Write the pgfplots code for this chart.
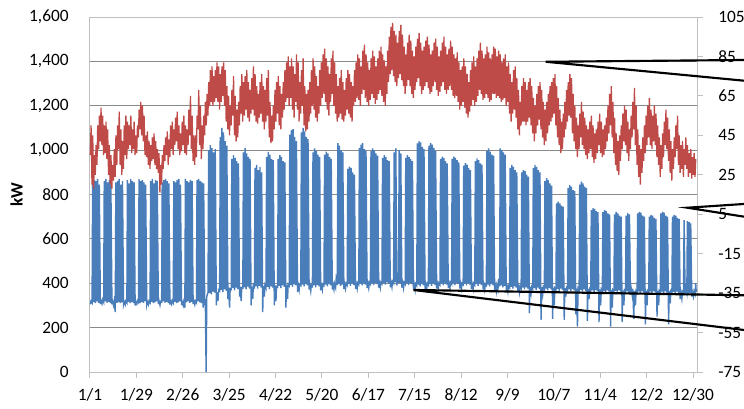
\documentclass[border=0pt]{standalone}
\usepackage{pgfplots}
\pgfplotsset{compat=1.18}
\usepackage{fontspec}
\setmainfont{Carlito}
\definecolor{lblue}{HTML}{4A7EBB}
\definecolor{lred}{HTML}{BE4B48}
\definecolor{gridgray}{HTML}{8A8A8A}
\definecolor{axisgray}{HTML}{BFBFBF}
\pgfplotsset{
  common/.style={
    scale only axis, width=455.25pt, height=266.25pt,
    xmin=0, xmax=366.4,
    tick align=outside, major tick length=4.5pt,
    axis line style={draw=axisgray, line width=0.75pt},
    ticklabel style={font=\fontsize{13}{15}\selectfont, text=black},
    /pgf/number format/assume math mode=true,
    /pgf/number format/1000 sep={,},
    clip=false,
  }
}
\begin{document}
\begin{tikzpicture}
\begin{axis}[common,
  ymin=0, ymax=1600, ytick={0,200,...,1600},
  xtick={0,28,...,364},
  xticklabels={1/1,1/29,2/26,3/25,4/22,5/20,6/17,7/15,8/12,9/9,10/7,11/4,12/2,12/30},
  xtick pos=lower,
  ymajorgrids, grid style={draw=gridgray, line width=0.75pt},
  xtick style={draw=axisgray, line width=0.75pt},
  ytick style={draw=none},
  yticklabel style={xshift=-8pt},
  xticklabel style={yshift=-4pt},
]
\coordinate (ll) at (rel axis cs:0,0);
\coordinate (ur) at (rel axis cs:1,1);
\node[rotate=90, font=\fontsize{13}{15}\selectfont\bfseries, xshift=0pt] at ([xshift=-55pt]rel axis cs:0,0.5) {kW};
\addplot[lblue, line width=1.05pt] coordinates {
(0.25,305)(0.6,320)(1.25,312)(1.6,850)(2.25,315)(2.6,865)(3.25,310)(3.6,860)(4.25,318)(4.6,870)(5.25,312)(5.6,845)(6.25,306)(6.6,322)
(7.25,308)(7.6,325)(8.25,314)(8.6,860)(9.25,318)(9.6,870)(10.25,312)(10.6,855)(11.25,316)(11.6,865)(12.25,310)(12.6,850)(13.25,305)(13.6,320)
(14.25,300)(14.6,318)(15.25,270)(15.6,855)(16.25,312)(16.6,860)(17.25,315)(17.6,870)(18.25,310)(18.6,845)(19.25,314)(19.6,860)(20.25,306)(20.6,318)
(21.25,304)(21.6,320)(22.25,312)(22.6,865)(23.25,316)(23.6,850)(24.25,310)(24.6,870)(25.25,315)(25.6,860)(26.25,311)(26.6,855)(27.25,300)(27.6,316)
(28.25,306)(28.6,322)(29.25,314)(29.6,870)(30.25,310)(30.6,860)(31.25,316)(31.6,865)(32.25,312)(32.6,855)(33.25,318)(33.6,845)(34.25,305)(34.6,318)
(35.25,304)(35.6,320)(36.25,312)(36.6,860)(37.25,316)(37.6,870)(38.25,310)(38.6,850)(39.25,314)(39.6,865)(40.25,318)(40.6,860)(41.25,306)(41.6,324)
(42.25,302)(42.6,318)(43.25,315)(43.6,855)(44.25,318)(44.6,865)(45.25,312)(45.6,870)(46.25,316)(46.6,860)(47.25,310)(47.6,850)(48.25,304)(48.6,320)
(49.25,306)(49.6,322)(50.25,312)(50.6,860)(51.25,316)(51.6,855)(52.25,310)(52.6,865)(53.25,314)(53.6,870)(54.25,318)(54.6,845)(55.25,302)(55.6,318)
(56.25,300)(56.6,316)(57.25,290)(57.6,870)(58.25,314)(58.6,860)(59.25,318)(59.6,855)(60.25,312)(60.6,865)(61.25,316)(61.6,860)(62.25,306)(62.6,322)
(63.25,304)(63.6,320)(64.25,312)(64.6,865)(65.25,318)(65.6,870)(66.25,314)(66.6,860)(67.25,310)(67.6,855)(68.25,290)(68.6,850)(69.25,300)(69.6,330)
(70.1,0)(70.5,340)(71.25,360)(71.6,1000)(72.25,355)(72.6,1023)(73.25,350)(73.6,1010)(74.25,362)(74.6,990)(75.25,358)(75.6,1005)(76.25,300)(76.6,360)
(77.25,320)(77.6,370)(78.25,365)(78.6,1060)(79.25,370)(79.6,1100)(80.25,360)(80.6,1080)(81.25,372)(81.6,1040)(82.25,366)(82.6,1020)(83.25,330)(83.6,380)
(84.25,290)(84.6,375)(85.25,372)(85.6,960)(86.25,378)(86.6,978)(87.25,368)(87.6,965)(88.25,380)(88.6,950)(89.25,374)(89.6,940)(90.25,340)(90.6,385)
(91.25,320)(91.6,380)(92.25,378)(92.6,990)(93.25,382)(93.6,1010)(94.25,372)(94.6,985)(95.25,385)(95.6,970)(96.25,376)(96.6,960)(97.25,300)(97.6,385)
(98.25,330)(98.6,390)(99.25,382)(99.6,920)(100.25,386)(100.6,933)(101.25,376)(101.6,910)(102.25,388)(102.6,925)(103.25,380)(103.6,900)(104.25,270)(104.6,388)
(105.25,340)(105.6,392)(106.25,378)(106.6,970)(107.25,384)(107.6,992)(108.25,374)(108.6,980)(109.25,386)(109.6,960)(110.25,380)(110.6,955)(111.25,300)(111.6,390)
(112.25,320)(112.6,385)(113.25,382)(113.6,960)(114.25,388)(114.6,978)(115.25,378)(115.6,970)(116.25,390)(116.6,950)(117.25,384)(117.6,945)(118.25,290)(118.6,392)
(119.25,330)(119.6,395)(120.25,388)(120.6,1070)(121.25,392)(121.6,1090)(122.25,384)(122.6,1095)(123.25,395)(123.6,1060)(124.25,390)(124.6,1040)(125.25,360)(125.6,398)
(126.25,370)(126.6,395)(127.25,390)(127.6,1080)(128.25,394)(128.6,1100)(129.25,386)(129.6,1085)(130.25,396)(130.6,1060)(131.25,390)(131.6,1050)(132.25,372)(132.6,398)
(133.25,365)(133.6,392)(134.25,386)(134.6,990)(135.25,390)(135.6,1008)(136.25,382)(136.6,995)(137.25,392)(137.6,980)(138.25,386)(138.6,970)(139.25,368)(139.6,394)
(140.25,370)(140.6,396)(141.25,390)(141.6,980)(142.25,394)(142.6,993)(143.25,386)(143.6,985)(144.25,396)(144.6,970)(145.25,390)(145.6,960)(146.25,372)(146.6,398)
(147.25,372)(147.6,398)(148.25,380)(148.6,420)(149.25,392)(149.6,1031)(150.25,396)(150.6,1020)(151.25,388)(151.6,1000)(152.25,394)(152.6,990)(153.25,374)(153.6,400)
(154.25,376)(154.6,400)(155.25,392)(155.6,915)(156.25,396)(156.6,926)(157.25,388)(157.6,920)(158.25,398)(158.6,900)(159.25,392)(159.6,890)(160.25,375)(160.6,402)
(161.25,376)(161.6,402)(162.25,394)(162.6,1010)(163.25,398)(163.6,1025)(164.25,390)(164.6,1031)(165.25,400)(165.6,1005)(166.25,394)(166.6,995)(167.25,378)(167.6,404)
(168.25,378)(168.6,404)(169.25,396)(169.6,995)(170.25,400)(170.6,1008)(171.25,392)(171.6,1000)(172.25,402)(172.6,985)(173.25,396)(173.6,975)(174.25,380)(174.6,406)
(175.25,380)(175.6,405)(176.25,398)(176.6,965)(177.25,402)(177.6,978)(178.25,394)(178.6,970)(179.25,404)(179.6,955)(180.25,398)(180.6,950)(181.25,382)(181.6,408)
(182.25,382)(182.6,408)(183.25,400)(183.6,990)(184.25,404)(184.6,1008)(185.25,390)(185.6,430)(186.25,402)(186.6,1000)(187.25,398)(187.6,985)(188.25,380)(188.6,406)
(189.25,378)(189.6,404)(190.25,396)(190.6,965)(191.25,400)(191.6,978)(192.25,392)(192.6,970)(193.25,402)(193.6,960)(194.25,396)(194.6,950)(195.25,372)(195.6,400)
(196.25,370)(196.6,398)(197.25,390)(197.6,1030)(198.25,394)(198.6,1041)(199.25,386)(199.6,1035)(200.25,396)(200.6,1015)(201.25,390)(201.6,1005)(202.25,372)(202.6,398)
(203.25,374)(203.6,400)(204.25,392)(204.6,1020)(205.25,396)(205.6,1031)(206.25,388)(206.6,1025)(207.25,398)(207.6,1010)(208.25,392)(208.6,995)(209.25,376)(209.6,402)
(210.25,376)(210.6,402)(211.25,394)(211.6,960)(212.25,398)(212.6,971)(213.25,390)(213.6,965)(214.25,400)(214.6,950)(215.25,394)(215.6,940)(216.25,378)(216.6,404)
(217.25,378)(217.6,404)(218.25,396)(218.6,960)(219.25,400)(219.6,971)(220.25,392)(220.6,965)(221.25,402)(221.6,955)(222.25,396)(222.6,945)(223.25,376)(223.6,402)
(224.25,376)(224.6,400)(225.25,394)(225.6,930)(226.25,398)(226.6,941)(227.25,390)(227.6,935)(228.25,400)(228.6,920)(229.25,394)(229.6,910)(230.25,374)(230.6,400)
(231.25,374)(231.6,400)(232.25,392)(232.6,950)(233.25,396)(233.6,963)(234.25,388)(234.6,955)(235.25,398)(235.6,940)(236.25,392)(236.6,935)(237.25,372)(237.6,398)
(238.25,370)(238.6,396)(239.25,390)(239.6,995)(240.25,394)(240.6,1008)(241.25,386)(241.6,993)(242.25,396)(242.6,980)(243.25,390)(243.6,975)(244.25,366)(244.6,394)
(245.25,364)(245.6,392)(246.25,372)(246.6,420)(247.25,386)(247.6,1008)(248.25,390)(248.6,1000)(249.25,382)(249.6,990)(250.25,388)(250.6,980)(251.25,362)(251.6,390)
(252.25,362)(252.6,388)(253.25,380)(253.6,920)(254.25,384)(254.6,933)(255.25,376)(255.6,925)(256.25,386)(256.6,910)(257.25,380)(257.6,900)(258.25,360)(258.6,386)
(259.25,358)(259.6,386)(260.25,376)(260.6,900)(261.25,380)(261.6,910)(262.25,372)(262.6,905)(263.25,382)(263.6,890)(264.25,376)(264.6,880)(265.25,265)(265.6,384)
(266.25,356)(266.6,384)(267.25,374)(267.6,920)(268.25,378)(268.6,933)(269.25,370)(269.6,925)(270.25,380)(270.6,910)(271.25,374)(271.6,900)(272.25,235)(272.6,382)
(273.25,350)(273.6,382)(274.25,372)(274.6,860)(275.25,376)(275.6,874)(276.25,368)(276.6,865)(277.25,378)(277.6,850)(278.25,372)(278.6,840)(279.25,240)(279.6,380)
(280.25,300)(280.6,378)(281.25,370)(281.6,760)(282.25,374)(282.6,768)(283.25,366)(283.6,760)(284.25,376)(284.6,750)(285.25,370)(285.6,745)(286.25,235)(286.6,378)
(287.25,340)(287.6,378)(288.25,368)(288.6,830)(289.25,372)(289.6,843)(290.25,364)(290.6,835)(291.25,374)(291.6,820)(292.25,368)(292.6,815)(293.25,260)(293.6,376)
(294.25,205)(294.6,376)(295.25,366)(295.6,845)(296.25,370)(296.6,858)(297.25,362)(297.6,850)(298.25,372)(298.6,835)(299.25,366)(299.6,830)(300.25,230)(300.6,374)
(301.25,330)(301.6,374)(302.25,364)(302.6,730)(303.25,368)(303.6,739)(304.25,360)(304.6,735)(305.25,370)(305.6,725)(306.25,364)(306.6,720)(307.25,225)(307.6,372)
(308.25,300)(308.6,372)(309.25,362)(309.6,720)(310.25,366)(310.6,730)(311.25,358)(311.6,725)(312.25,368)(312.6,715)(313.25,362)(313.6,710)(314.25,205)(314.6,370)
(315.25,290)(315.6,370)(316.25,362)(316.6,710)(317.25,366)(317.6,722)(318.25,358)(318.6,715)(319.25,368)(319.6,705)(320.25,362)(320.6,700)(321.25,225)(321.6,368)
(322.25,300)(322.6,368)(323.25,360)(323.6,705)(324.25,364)(324.6,716)(325.25,356)(325.6,710)(326.25,350)(326.6,380)(327.25,348)(327.6,376)(328.25,240)(328.6,366)
(329.25,300)(329.6,366)(330.25,358)(330.6,715)(331.25,362)(331.6,722)(332.25,354)(332.6,718)(333.25,364)(333.6,705)(334.25,358)(334.6,700)(335.25,215)(335.6,366)
(336.25,300)(336.6,366)(337.25,358)(337.6,700)(338.25,362)(338.6,708)(339.25,354)(339.6,705)(340.25,364)(340.6,695)(341.25,358)(341.6,690)(342.25,250)(342.6,366)
(343.25,300)(343.6,366)(344.25,358)(344.6,715)(345.25,362)(345.6,722)(346.25,354)(346.6,718)(347.25,364)(347.6,705)(348.25,358)(348.6,700)(349.25,215)(349.6,364)
(350.25,310)(350.6,364)(351.25,356)(351.6,700)(352.25,360)(352.6,708)(353.25,352)(353.6,705)(354.25,362)(354.6,695)(355.25,356)(355.6,690)(356.25,330)(356.6,362)
(357.25,330)(357.6,362)(358.25,354)(358.6,685)(359.25,350)(359.6,380)(360.25,356)(360.6,680)(361.25,352)(361.6,675)(362.25,356)(362.6,670)(363.25,340)(363.6,362)
(364.25,340)(364.6,364)(365.25,350)(365.6,400)(365.95,360)
};
\end{axis}
\begin{axis}[common,
  ymin=-75, ymax=105, ytick={-75,-55,...,105},
  axis y line*=right, axis x line=none,
  ytick style={draw=axisgray, line width=0.75pt},
  yticklabel style={xshift=8pt},
]
\addplot[lred, line width=0.95pt] coordinates {
(0.2,35)(0.65,50)(1.2,20)(1.65,45)(2.2,18)(2.65,35)(3.2,25)(3.65,40)(4.2,30)(4.65,50)(5.2,38)(5.65,55)(6.2,42)(6.65,59)
(7.2,40)(7.65,55)(8.2,35)(8.65,50)(9.2,36)(9.65,52)(10.2,33)(10.65,48)(11.2,25)(11.65,40)(12.2,20)(12.65,35)(13.2,18)(13.65,30)
(14.2,22)(14.65,38)(15.2,24)(15.65,45)(16.2,30)(16.65,50)(17.2,38)(17.65,57)(18.2,30)(18.65,48)(19.2,25)(19.65,42)(20.2,28)(20.65,50)
(21.2,35)(21.65,55)(22.2,33)(22.65,52)(23.2,38)(23.65,50)(24.2,40)(24.65,55)(25.2,36)(25.65,48)(26.2,38)(26.65,52)(27.2,35)(27.65,45)
(28.2,36)(28.65,50)(29.2,44)(29.65,58)(30.2,48)(30.65,62)(31.2,45)(31.65,60)(32.2,42)(32.65,55)(33.2,35)(33.65,45)(34.2,34)(34.65,47)
(35.2,30)(35.65,42)(36.2,28)(36.65,40)(37.2,32)(37.65,44)(38.2,33)(38.65,46)(39.2,30)(39.65,42)(40.2,28)(40.65,38)(41.2,26)(41.65,36)
(42.2,16)(42.65,30)(43.2,20)(43.65,35)(44.2,28)(44.65,40)(45.2,32)(45.65,44)(46.2,35)(46.65,47)(47.2,30)(47.65,43)(48.2,34)(48.65,50)
(49.2,38)(49.65,52)(50.2,35)(50.65,48)(51.2,40)(51.65,54)(52.2,42)(52.65,57)(53.2,38)(53.65,50)(54.2,35)(54.65,46)(55.2,37)(55.65,52)
(56.2,40)(56.65,55)(57.2,36)(57.65,50)(58.2,35)(58.65,48)(59.2,40)(59.65,58)(60.2,45)(60.65,65)(61.2,38)(61.65,55)(62.2,32)(62.65,45)
(63.2,30)(63.65,45)(64.2,34)(64.65,55)(65.2,48)(65.65,68)(66.2,40)(66.65,60)(67.2,33)(67.65,50)(68.2,38)(68.65,55)(69.2,45)(69.65,62)
(70.2,50)(70.65,66)(71.2,55)(71.65,72)(72.2,60)(72.65,78)(73.2,62)(73.65,80)(74.2,60)(74.65,75)(75.2,62)(75.65,78)(76.2,64)(76.65,82)
(77.2,62)(77.65,80)(78.2,58)(78.65,76)(79.2,62)(79.65,80)(80.2,65)(80.65,82)(81.2,60)(81.65,78)(82.2,52)(82.65,70)(83.2,48)(83.65,65)
(84.2,45)(84.65,60)(85.2,50)(85.65,68)(86.2,55)(86.65,75)(87.2,45)(87.65,65)(88.2,42)(88.65,58)(89.2,44)(89.65,62)(90.2,50)(90.65,70)
(91.2,56)(91.65,76)(92.2,52)(92.65,72)(93.2,55)(93.65,75)(94.2,58)(94.65,78)(95.2,54)(95.65,72)(96.2,52)(96.65,68)(97.2,56)(97.65,74)
(98.2,58)(98.65,80)(99.2,55)(99.65,76)(100.2,52)(100.65,70)(101.2,51)(101.65,66)(102.2,54)(102.65,72)(103.2,56)(103.65,76)(104.2,52)(104.65,70)
(105.2,48)(105.65,68)(106.2,52)(106.65,74)(107.2,55)(107.65,78)(108.2,44)(108.65,62)(109.2,41)(109.65,55)(110.2,42)(110.65,60)(111.2,48)(111.65,68)
(112.2,52)(112.65,72)(113.2,56)(113.65,75)(114.2,50)(114.65,70)(115.2,48)(115.65,66)(116.2,54)(116.65,72)(117.2,58)(117.65,78)(118.2,62)(118.65,82)
(119.2,64)(119.65,85)(120.2,60)(120.65,80)(121.2,64)(121.65,84)(122.2,58)(122.65,80)(123.2,54)(123.65,76)(124.2,62)(124.65,86)(125.2,58)(125.65,82)
(126.2,52)(126.65,72)(127.2,56)(127.65,78)(128.2,60)(128.65,84)(129.2,50)(129.65,70)(130.2,47)(130.65,66)(131.2,48)(131.65,68)(132.2,52)(132.65,72)
(133.2,56)(133.65,78)(134.2,60)(134.65,84)(135.2,58)(135.65,80)(136.2,54)(136.65,75)(137.2,52)(137.65,70)(138.2,56)(138.65,78)(139.2,60)(139.65,82)
(140.2,64)(140.65,86)(141.2,66)(141.65,89)(142.2,62)(142.65,84)(143.2,58)(143.65,80)(144.2,55)(144.65,76)(145.2,62)(145.65,84)(146.2,66)(146.65,88)
(147.2,60)(147.65,82)(148.2,56)(148.65,76)(149.2,52)(149.65,70)(150.2,54)(150.65,74)(151.2,56)(151.65,78)(152.2,53)(152.65,72)(153.2,52)(153.65,68)
(154.2,55)(154.65,74)(155.2,58)(155.65,78)(156.2,56)(156.65,76)(157.2,54)(157.65,72)(158.2,52)(158.65,70)(159.2,60)(159.65,78)(160.2,62)(160.65,82)
(161.2,64)(161.65,86)(162.2,63)(162.65,84)(163.2,60)(163.65,80)(164.2,66)(164.65,88)(165.2,68)(165.65,91)(166.2,64)(166.65,86)(167.2,62)(167.65,82)
(168.2,60)(168.65,78)(169.2,63)(169.65,84)(170.2,66)(170.65,88)(171.2,64)(171.65,85)(172.2,61)(172.65,80)(173.2,63)(173.65,84)(174.2,66)(174.65,88)
(175.2,68)(175.65,90)(176.2,65)(176.65,86)(177.2,62)(177.65,83)(178.2,60)(178.65,80)(179.2,66)(179.65,88)(180.2,72)(180.65,95)(181.2,76)(181.65,100)
(182.2,78)(182.65,102)(183.2,75)(183.65,98)(184.2,72)(184.65,96)(185.2,70)(185.65,92)(186.2,74)(186.65,98)(187.2,76)(187.65,101)(188.2,73)(188.65,96)
(189.2,70)(189.65,90)(190.2,66)(190.65,86)(191.2,70)(191.65,92)(192.2,73)(192.65,96)(193.2,70)(193.65,93)(194.2,66)(194.65,88)(195.2,64)(195.65,85)
(196.2,68)(196.65,90)(197.2,72)(197.65,94)(198.2,74)(198.65,97)(199.2,70)(199.65,92)(200.2,66)(200.65,88)(201.2,68)(201.65,90)(202.2,70)(202.65,93)
(203.2,72)(203.65,95)(204.2,69)(204.65,91)(205.2,66)(205.65,86)(206.2,67)(206.65,88)(207.2,70)(207.65,92)(208.2,72)(208.65,94)(209.2,68)(209.65,90)
(210.2,65)(210.65,85)(211.2,67)(211.65,88)(212.2,70)(212.65,92)(213.2,72)(213.65,95)(214.2,68)(214.65,90)(215.2,66)(215.65,86)(216.2,68)(216.65,89)
(217.2,70)(217.65,93)(218.2,68)(218.65,90)(219.2,65)(219.65,86)(220.2,64)(220.65,84)(221.2,65)(221.65,87)(222.2,62)(222.65,82)(223.2,58)(223.65,78)
(224.2,60)(224.65,80)(225.2,62)(225.65,84)(226.2,59)(226.65,80)(227.2,56)(227.65,76)(228.2,54)(228.65,72)(229.2,57)(229.65,78)(230.2,60)(230.65,82)
(231.2,63)(231.65,85)(232.2,60)(232.65,80)(233.2,62)(233.65,84)(234.2,65)(234.65,88)(235.2,68)(235.65,92)(236.2,66)(236.65,88)(237.2,63)(237.65,84)
(238.2,64)(238.65,86)(239.2,66)(239.65,90)(240.2,64)(240.65,87)(241.2,62)(241.65,84)(242.2,63)(242.65,86)(243.2,66)(243.65,90)(244.2,66)(244.65,89)
(245.2,64)(245.65,85)(246.2,65)(246.65,88)(247.2,64)(247.65,86)(248.2,62)(248.65,82)(249.2,63)(249.65,84)(250.2,64)(250.65,86)(251.2,60)(251.65,80)
(252.2,62)(252.65,82)(253.2,56)(253.65,76)(254.2,52)(254.65,72)(255.2,56)(255.65,78)(256.2,58)(256.65,80)(257.2,54)(257.65,74)(258.2,48)(258.65,68)
(259.2,45)(259.65,62)(260.2,50)(260.65,70)(261.2,52)(261.65,74)(262.2,52)(262.65,72)(263.2,50)(263.65,68)(264.2,52)(264.65,72)(265.2,54)(265.65,74)
(266.2,50)(266.65,70)(267.2,46)(267.65,64)(268.2,42)(268.65,60)(269.2,46)(269.65,66)(270.2,50)(270.65,70)(271.2,53)(271.65,72)(272.2,48)(272.65,68)
(273.2,44)(273.65,62)(274.2,40)(274.65,58)(275.2,42)(275.65,62)(276.2,46)(276.65,66)(277.2,50)(277.65,70)(278.2,52)(278.65,72)(279.2,54)(279.65,74)
(280.2,56)(280.65,76)(281.2,50)(281.65,70)(282.2,44)(282.65,64)(283.2,40)(283.65,58)(284.2,36)(284.65,52)(285.2,38)(285.65,56)(286.2,44)(286.65,62)
(287.2,48)(287.65,68)(288.2,52)(288.65,72)(289.2,55)(289.65,76)(290.2,54)(290.65,74)(291.2,46)(291.65,66)(292.2,42)(292.65,60)(293.2,38)(293.65,54)
(294.2,34)(294.65,50)(295.2,38)(295.65,56)(296.2,44)(296.65,62)(297.2,40)(297.65,57)(298.2,38)(298.65,54)(299.2,35)(299.65,50)(300.2,33)(300.65,48)
(301.2,36)(301.65,52)(302.2,38)(302.65,55)(303.2,34)(303.65,50)(304.2,31)(304.65,46)(305.2,33)(305.65,48)(306.2,36)(306.65,52)(307.2,40)(307.65,56)
(308.2,36)(308.65,52)(309.2,34)(309.65,48)(310.2,35)(310.65,50)(311.2,38)(311.65,54)(312.2,42)(312.65,60)(313.2,46)(313.65,66)(314.2,50)(314.65,70)
(315.2,44)(315.65,62)(316.2,36)(316.65,54)(317.2,30)(317.65,46)(318.2,27)(318.65,42)(319.2,25)(319.65,45)(320.2,32)(320.65,50)(321.2,38)(321.65,56)
(322.2,42)(322.65,60)(323.2,40)(323.65,58)(324.2,36)(324.65,52)(325.2,32)(325.65,48)(326.2,38)(326.65,55)(327.2,44)(327.65,62)(328.2,48)(328.65,69)
(329.2,40)(329.65,60)(330.2,30)(330.65,48)(331.2,24)(331.65,40)(332.2,20)(332.65,38)(333.2,26)(333.65,44)(334.2,32)(334.65,50)(335.2,36)(335.65,55)
(336.2,40)(336.65,60)(337.2,44)(337.65,64)(338.2,40)(338.65,58)(339.2,38)(339.65,55)(340.2,42)(340.65,60)(341.2,40)(341.65,56)(342.2,34)(342.65,50)
(343.2,30)(343.65,44)(344.2,24)(344.65,40)(345.2,28)(345.65,46)(346.2,34)(346.65,52)(347.2,40)(347.65,58)(348.2,38)(348.65,54)(349.2,32)(349.65,48)
(350.2,26)(350.65,42)(351.2,22)(351.65,38)(352.2,28)(352.65,44)(353.2,34)(353.65,50)(354.2,38)(354.65,55)(355.2,30)(355.65,45)(356.2,26)(356.65,40)
(357.2,28)(357.65,42)(358.2,24)(358.65,38)(359.2,30)(359.65,44)(360.2,28)(360.65,40)(361.2,24)(361.65,36)(362.2,26)(362.65,38)(363.2,23)(363.65,34)
(364.2,25)(364.65,36)(365.2,24)(365.65,33)
};
\draw[black, line width=1.6pt] (axis cs:394.8,83.2) -- (axis cs:275.1,82.3) -- (axis cs:394.8,72.7);
\draw[black, line width=1.6pt] (axis cs:394.8,10.2) -- (axis cs:360.6,8.3) -- (axis cs:394.8,3.75);
\draw[black, line width=1.6pt] (axis cs:394.8,-36.1) -- (axis cs:195.2,-33.4) -- (axis cs:394.8,-53.7);
\end{axis}
\pgfresetboundingbox
\path ([xshift=-67.5pt,yshift=-27pt]ll) rectangle ([xshift=35.25pt,yshift=12.75pt]ur);
\end{tikzpicture}
\end{document}
